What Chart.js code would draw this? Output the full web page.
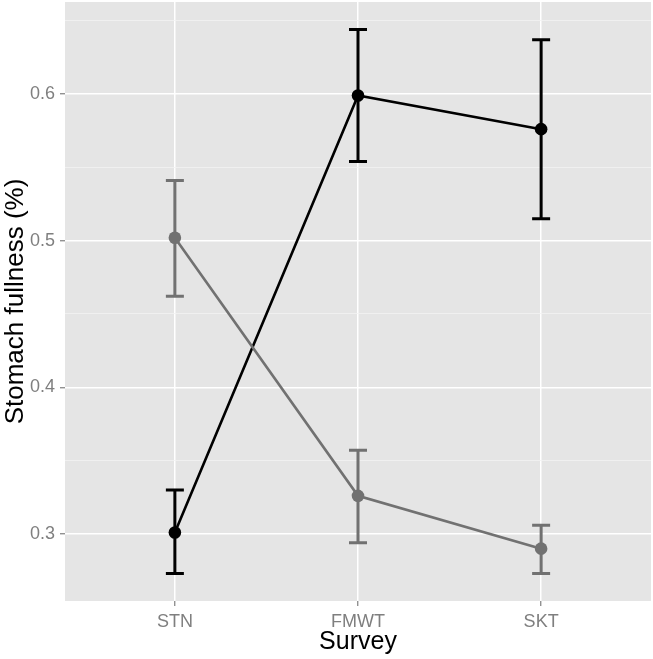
<!DOCTYPE html>
<html lang="en">
<head>
  <meta charset="UTF-8">
  <title>Stomach fullness by survey</title>
  <script src="https://cdn.jsdelivr.net/npm/chart.js"></script>
  <style>
    body {
      margin: 0;
      background-color: #fff;
    }
    canvas {
      display: block;
    }
  </style>
</head>
<body>
  <canvas id="fullness" width="653" height="659"></canvas>

  <script>
    // values
    const categories = ['STN', 'FMWT', 'SKT'];

    const blackMean = [0.301, 0.599, 0.576];
    const blackLow  = [0.273, 0.554, 0.515];
    const blackHigh = [0.330, 0.644, 0.637];

    const greyMean = [0.502, 0.326, 0.290];
    const greyLow  = [0.462, 0.294, 0.273];
    const greyHigh = [0.541, 0.357, 0.306];

    const yMajor = [0.3, 0.4, 0.5, 0.6];
    const yMinor = [0.35, 0.45, 0.55, 0.65];

    const BLACK = '#000000';
    const GREY = '#717171';

    function isMajor(v) {
      return yMajor.some(m => Math.abs(m - v) < 1e-6);
    }

    const panelBg = {
      id: 'panelBg',
      beforeDraw(chart) {
        const a = chart.chartArea;
        const c = chart.ctx;
        c.save();
        c.fillStyle = '#E5E5E5';
        c.fillRect(a.left, a.top, a.right - a.left, a.bottom - a.top);
        c.restore();
      }
    };

    // error bars drawn through the chart's scales
    const errorBars = {
      id: 'errorBars',
      beforeDatasetsDraw(chart) {
        const c = chart.ctx;
        const xs = chart.scales.x;
        const ys = chart.scales.y;
        chart.data.datasets.forEach(ds => {
          c.save();
          c.strokeStyle = ds.borderColor;
          c.lineWidth = 3;
          ds.data.forEach((p, i) => {
            const x = xs.getPixelForValue(p.x);
            const yl = ys.getPixelForValue(ds.low[i]);
            const yh = ys.getPixelForValue(ds.high[i]);
            c.beginPath();
            c.moveTo(x, yl); c.lineTo(x, yh);
            c.moveTo(x - 9, yl); c.lineTo(x + 9, yl);
            c.moveTo(x - 9, yh); c.lineTo(x + 9, yh);
            c.stroke();
          });
          c.restore();
        });
      }
    };

    const ctx = document.getElementById('fullness').getContext('2d');
    new Chart(ctx, {
      type: 'line',
      data: {
        datasets: [
          {
            data: categories.map((_, i) => ({ x: i, y: greyMean[i] })),
            low: greyLow,
            high: greyHigh,
            borderColor: GREY,
            backgroundColor: GREY,
            borderWidth: 2.6,
            pointRadius: 6.3,
            pointBorderWidth: 0,
            tension: 0
          },
          {
            data: categories.map((_, i) => ({ x: i, y: blackMean[i] })),
            low: blackLow,
            high: blackHigh,
            borderColor: BLACK,
            backgroundColor: BLACK,
            borderWidth: 2.6,
            pointRadius: 6.3,
            pointBorderWidth: 0,
            tension: 0
          }
        ]
      },
      options: {
        responsive: false,
        animation: false,
        layout: { autoPadding: false, padding: { top: 2, right: 2, left: 0, bottom: 0 } },
        plugins: {
          legend: { display: false },
          tooltip: { enabled: false }
        },
        scales: {
          x: {
            type: 'linear',
            min: -0.6,
            max: 2.6,
            afterBuildTicks: s => { s.ticks = categories.map((_, i) => ({ value: i })); },
            afterFit: s => { s.height = 58; s.paddingLeft = 0; s.paddingRight = 0; },
            border: { display: false },
            grid: {
              color: '#FFFFFF',
              lineWidth: 1.5,
              tickColor: '#7F7F7F',
              tickLength: 5,
              tickWidth: 1.2
            },
            ticks: {
              autoSkip: false,
              maxRotation: 0,
              padding: 5,
              color: '#7F7F7F',
              font: { family: 'Liberation Sans', size: 18 },
              callback: v => categories[v]
            },
            title: {
              display: true,
              text: 'Survey',
              color: '#000000',
              padding: { top: 0, bottom: 2 },
              font: { family: 'Liberation Sans', size: 25 }
            }
          },
          y: {
            min: 0.2543,
            max: 0.6627,
            afterBuildTicks: s => {
              s.ticks = [...yMajor, ...yMinor].sort((a, b) => a - b).map(v => ({ value: v }));
            },
            afterFit: s => { s.width = 65; s.paddingTop = 0; s.paddingBottom = 0; },
            border: { display: false },
            grid: {
              color: c => isMajor(c.tick.value) ? '#FFFFFF' : '#F2F2F2',
              lineWidth: c => isMajor(c.tick.value) ? 1.5 : 0.8,
              tickColor: c => isMajor(c.tick.value) ? '#7F7F7F' : 'rgba(0,0,0,0)',
              tickLength: 5,
              tickWidth: 1.2
            },
            ticks: {
              autoSkip: false,
              padding: 5,
              color: '#7F7F7F',
              font: { family: 'Liberation Sans', size: 18 },
              callback: v => isMajor(v) ? v.toFixed(1) : ''
            },
            title: {
              display: true,
              text: 'Stomach fullness (%)',
              color: '#000000',
              padding: { top: 0, bottom: 0 },
              font: { family: 'Liberation Sans', size: 26 }
            }
          }
        }
      },
      plugins: [panelBg, errorBars]
    });
  </script>
</body>
</html>
